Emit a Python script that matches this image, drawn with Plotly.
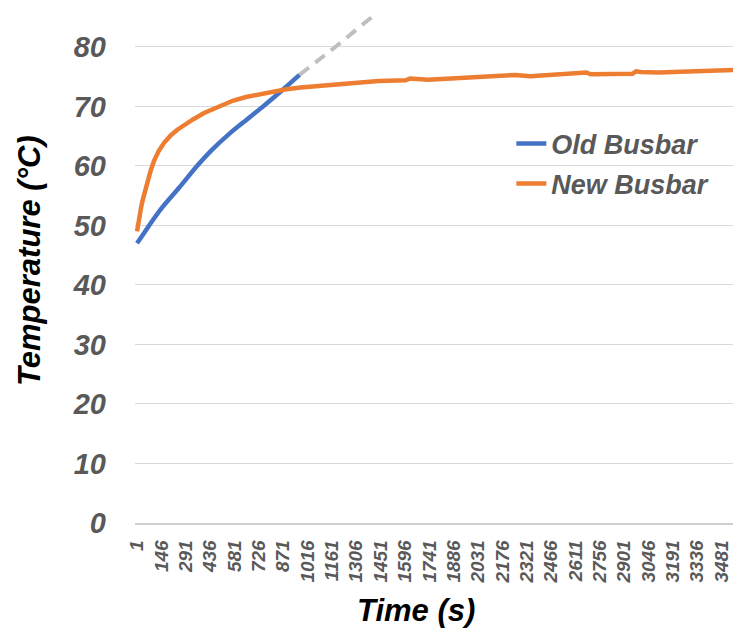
import plotly.graph_objects as go

# Old Busbar (blue) measured temperature
old_t = [1, 40, 73, 150, 250, 358, 450, 550, 650, 751, 860, 968]
old_temp = [47.0, 48.6, 50.0, 53.0, 56.3, 60.0, 62.8, 65.4, 67.7, 70.0, 72.6, 75.3]

# Old Busbar extrapolated trend (grey dashed)
trend_t = [968, 1190, 1406]
trend_temp = [75.3, 80.2, 85.2]

# New Busbar (orange) measured temperature
new_t = [1, 8, 15, 25, 35, 50, 64, 83, 103, 130, 162, 200, 241, 290, 339, 400, 457,
         515, 574, 650, 732, 810, 889, 975, 1066, 1160, 1262, 1350,
         1439, 1600, 1626, 1734, 1891, 2127, 2254, 2342, 2519, 2676, 2700,
         2814, 2950, 2971, 3000, 3108, 3324, 3501, 3600]
new_temp = [49.0, 50.4, 51.6, 53.0, 54.3, 56.0, 57.5, 59.3, 60.9, 62.5, 63.9, 65.1,
            66.1, 67.1, 67.9, 68.9, 69.6, 70.4, 71.0, 71.6, 72.1, 72.5, 72.9, 73.2,
            73.4, 73.7, 73.9, 74.1, 74.3, 74.4, 74.7, 74.5, 74.7, 75.0, 75.3, 75.1,
            75.4, 75.7, 75.4, 75.4, 75.5, 75.9, 75.8, 75.7, 76.0, 76.2, 76.2]

x_ticks = [1 + 145 * i for i in range(25)]
y_ticks = [0, 10, 20, 30, 40, 50, 60, 70, 80]

FONT = "Liberation Sans, Arial, sans-serif"
GREY_TXT = "#595959"

# page body has an 8px margin; figure is sized to fill the rest of the window
W, H = 733, 623
L, B = 127, 108
PW, PH = W - L, H - B

fig = go.Figure()
fig.add_trace(go.Scatter(x=trend_t, y=trend_temp, mode="lines",
                         line=dict(color="#BFBFBF", width=4, dash="12px,8px"),
                         showlegend=False, hoverinfo="skip"))
fig.add_trace(go.Scatter(x=old_t, y=old_temp, mode="lines", name="Old Busbar",
                         line=dict(color="#4472C4", width=4.5, shape="spline", smoothing=0.6),
                         legend="legend"))
fig.add_trace(go.Scatter(x=new_t, y=new_temp, mode="lines", name="New Busbar",
                         line=dict(color="#ED7D31", width=4.5), legend="legend2"))

leg_font = dict(family=FONT, size=27, color=GREY_TXT, weight="bold", style="italic")
fig.update_layout(
    width=W, height=H,
    margin=dict(l=L, r=0, t=0, b=B, pad=0, autoexpand=False),
    plot_bgcolor="white", paper_bgcolor="white",
    legend=dict(x=0.621, y=1 - 136 / PH, xanchor="left", yanchor="middle",
                font=leg_font, bgcolor="rgba(0,0,0,0)"),
    legend2=dict(x=0.621, y=1 - 176 / PH, xanchor="left", yanchor="middle",
                 font=leg_font, bgcolor="rgba(0,0,0,0)"),
    xaxis=dict(range=[-11, 3596], tickmode="array", tickvals=x_ticks,
               ticktext=[str(v) for v in x_ticks], tickangle=-90, automargin=False,
               tickfont=dict(family=FONT, size=19, color=GREY_TXT, weight="bold", style="italic"),
               showgrid=False, zeroline=False, showline=True, linecolor="#D0D0D0",
               linewidth=1.5, ticks="", ticklabelstandoff=8),
    yaxis=dict(range=[0, 86.55], tickmode="array", tickvals=y_ticks, automargin=False,
               tickfont=dict(family=FONT, size=29, color=GREY_TXT, weight="bold", style="italic"),
               showgrid=True, gridcolor="#D9D9D9", gridwidth=1.2, zeroline=False,
               showline=False, ticks="", ticklabelstandoff=28),
    annotations=[
        dict(text="Time (s)", xref="paper", yref="paper", x=(408 - L) / PW,
             y=-(602 - PH) / PH, xanchor="center", yanchor="middle", showarrow=False,
             font=dict(family=FONT, size=31, color="black", weight="bold", style="italic")),
        dict(text="Temperature (°C)", xref="paper", yref="paper", x=-(L - 21) / PW,
             y=1 - 253 / PH, xanchor="center", yanchor="middle", showarrow=False,
             textangle=-90,
             font=dict(family=FONT, size=31, color="black", weight="bold", style="italic")),
    ],
)

fig.write_html("out.html")
